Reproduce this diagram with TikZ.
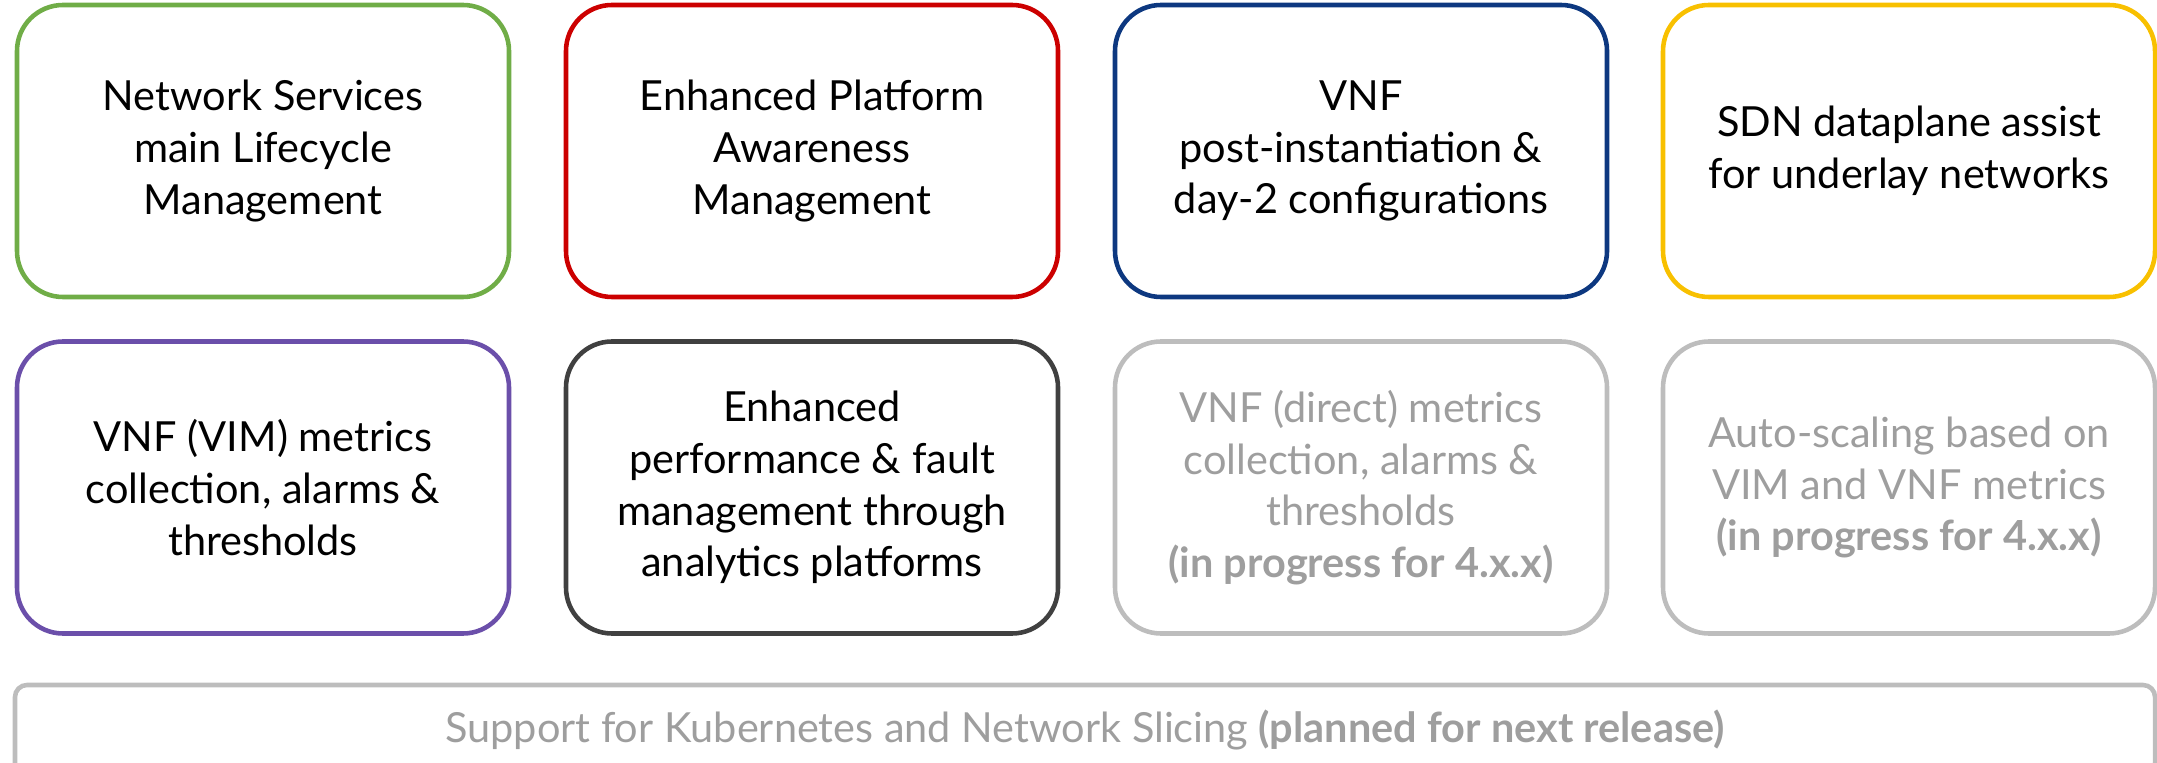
\documentclass[tikz,border=0pt]{standalone}
\usepackage{fontspec}
\setmainfont{Lato}
\usepackage{tikz}
\usetikzlibrary{positioning}

\definecolor{osmgreen}{HTML}{70AD47}
\definecolor{osmred}{HTML}{CC0000}
\definecolor{osmblue}{HTML}{0D3880}
\definecolor{osmyellow}{HTML}{F8C000}
\definecolor{osmpurple}{HTML}{6B4FAA}
\definecolor{osmdark}{HTML}{404040}
\definecolor{osmlight}{HTML}{BDBDBD}
\definecolor{osmtext}{HTML}{9E9E9E}

\begin{document}
\begin{tikzpicture}[
    feature/.style={draw, rectangle, rounded corners=0.46cm, line width=1.3pt,
        minimum width=4.92cm, minimum height=2.92cm, align=center,
        font=\fontsize{11.8}{14.7}\selectfont, inner sep=0pt},
    planned/.style={feature, draw=osmlight, text=osmtext}]
    \useasboundingbox (0,0) rectangle (21.57,7.62);

    % first row
    \node[feature, draw=osmgreen] (nslcm) at (2.63, 6.11) {Network Services\\main Lifecycle\\Management};
    \node[feature, draw=osmred] (epa) at (8.12, 6.11) {Enhanced Platform\\Awareness\\Management};
    \node[feature, draw=osmblue] (vnfcfg) at (13.61, 6.11) {VNF\\post-instantiation \&\\day-2 configurations};
    \node[feature, draw=osmyellow] (sdn) at (19.09, 6.11) {SDN dataplane assist\\for underlay networks};

    % second row
    \node[feature, draw=osmpurple] (vimmet) at (2.63, 2.745) {VNF (VIM) metrics\\collection, alarms \&\\thresholds};
    \node[feature, draw=osmdark] (pfm) at (8.12, 2.745) {Enhanced\\performance \& fault\\management through\\analytics platforms};
    \node[planned] (vnfmet) at (13.61, 2.745) {VNF (direct) metrics\\collection, alarms \&\\thresholds\\\textbf{(in progress for 4.x.x)}};
    \node[planned] (scaling) at (19.09, 2.745) {Auto-scaling based on\\VIM and VNF metrics\\\textbf{(in progress for 4.x.x)}};

    % bottom bar
    \node[planned, rounded corners=0.12cm, minimum width=21.40cm, minimum height=0.90cm] (k8s) at (10.85, 0.32)
        {Support for Kubernetes and Network Slicing \textbf{(planned for next release)}};
\end{tikzpicture}
\end{document}
